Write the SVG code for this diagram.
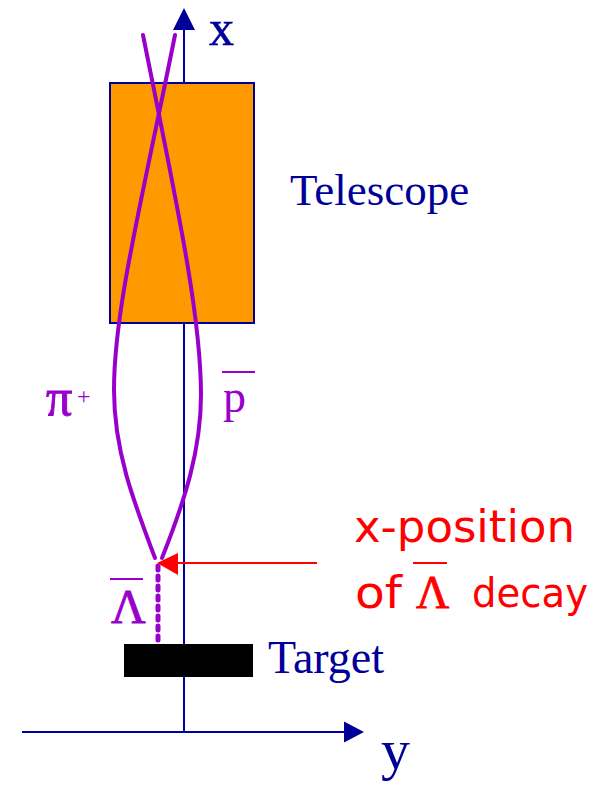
<svg xmlns="http://www.w3.org/2000/svg" width="599" height="785" viewBox="0 0 599 785">
<style>
.axis{stroke:#000099;stroke-width:2;fill:none}
.head{fill:#000099}
.trk{stroke:#9900CC;stroke-width:4;fill:none;stroke-linecap:round}
.serif{font-family:"Liberation Serif","Times New Roman",serif}
.navy{fill:#000099}
.purp{fill:#9900CC}
.red{fill:#FF0000}
.sans{font-family:"DejaVu Sans","Liberation Sans",sans-serif}
</style>
<rect width="599" height="785" fill="#ffffff"/>
<g id="connectors">
<line class="axis" x1="184" y1="28" x2="184" y2="733"/>
<polygon class="head" points="184,8 173,30 195,30"/>
<line class="axis" x1="22" y1="732" x2="346" y2="732"/>
<polygon class="head" points="364,732 344,721.5 344,742.5"/>
</g>
<g id="telescope">
<rect x="110" y="83" width="144" height="240" fill="#FF9900" stroke="#000099" stroke-width="2"/>
<text class="serif navy" x="290" y="205" font-size="45">Telescope</text>
</g>
<g id="target">
<rect x="124" y="644" width="129" height="33" fill="#000000"/>
<text class="serif navy" x="268" y="673" font-size="46">Target</text>
</g>
<g id="axis-labels">
<text class="serif navy" x="209" y="45" font-size="50" stroke="#000099" stroke-width="0.6">x</text>
<text class="serif navy" x="381" y="769" font-size="58">y</text>
</g>
<g id="tracks">
<path class="trk" d="M155,558 C133,500 114,450 114,390 C114,310 141,205 175,35"/>
<path class="trk" d="M162,558 C185,500 201,450 201,395 C201,315 177,205 143,35"/>
<line x1="158" y1="566" x2="158" y2="643" stroke="#9900CC" stroke-width="5" stroke-linecap="round" stroke-dasharray="4 6"/>
</g>
<g id="particle-labels">
<text class="serif purp" x="46" y="415" font-size="52" stroke="#9900CC" stroke-width="0.9">π</text>
<text class="serif purp" x="77" y="404" font-size="24">+</text>
<text class="serif purp" x="223" y="412" font-size="46">p</text>
<line x1="222" y1="372" x2="255" y2="372" stroke="#9900CC" stroke-width="2"/>
<text class="serif purp" x="111" y="623" font-size="48" stroke="#9900CC" stroke-width="0.8">Λ</text>
<line x1="110" y1="579" x2="143" y2="579" stroke="#9900CC" stroke-width="2"/>
</g>
<g id="decay-arrow">
<line x1="317" y1="563" x2="176" y2="563" stroke="#FF0000" stroke-width="2"/>
<polygon points="157,563 178,553 178,575" fill="#FF0000"/>
<text class="sans red" x="354" y="542" font-size="44" textLength="221" lengthAdjust="spacingAndGlyphs">x-position</text>
<text class="sans red" x="355" y="608" font-size="44" textLength="47" lengthAdjust="spacingAndGlyphs">of</text>
<text class="serif red" x="416" y="608" font-size="46" stroke="#FF0000" stroke-width="0.8">Λ</text>
<line x1="413" y1="563" x2="447" y2="563" stroke="#FF0000" stroke-width="2"/>
<text class="sans red" x="472" y="607" font-size="41" textLength="116" lengthAdjust="spacingAndGlyphs">decay</text>
</g>
</svg>
